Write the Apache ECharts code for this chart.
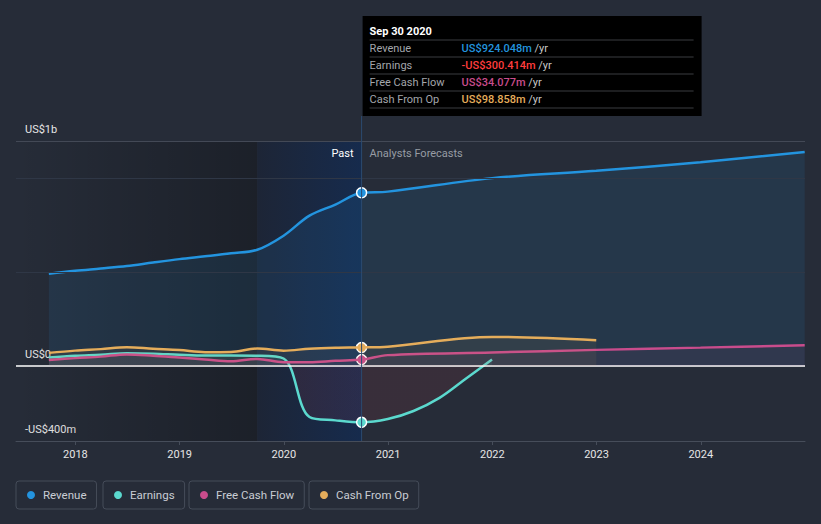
<!DOCTYPE html>
<html><head><meta charset="utf-8">
<script src="https://cdn.jsdelivr.net/npm/echarts@6/dist/echarts.min.js"></script>
<style>html,body{margin:0;padding:0;background:#262c38;}#c{width:821px;height:524px;}</style>
</head><body><div id="c"></div>
<script>
// ---------- data ----------
const pastDates = ['2017-09-30','2017-12-31','2018-03-31','2018-06-30','2018-09-30','2018-12-31','2019-03-31','2019-06-30','2019-09-30','2019-12-31','2020-03-31','2020-06-30','2020-09-30'];
const revenuePast  = [492, 508, 520, 533, 552, 570, 585, 601, 620, 695, 802, 861, 924.048];
const earningsPast = [45, 55, 60, 68, 66, 60, 56, 56, 55, 40, -272, -290, -300.414];
const fcfPast      = [32, 42, 50, 62, 55, 45, 35, 25, 38, 20, 20, 28, 34.077];
const cfoPast      = [70, 82, 90, 100, 92, 85, 74, 75, 93, 82, 92, 97, 98.858];

const annualFcDates   = ['2020-12-31','2021-12-31','2022-12-31','2023-12-31','2024-12-31'];
const revenueFc       = [930, 1002, 1041, 1087, 1141];
const fcfFc           = [58, 72, 86, 98, 111];
const cfoFcDates      = ['2020-12-31','2021-12-31','2022-12-31'];
const cfoFc           = [103, 155, 137];
const earningsFcDates = ['2020-12-31','2021-03-31','2021-06-30','2021-09-30','2021-12-31'];
const earningsFc      = [-283, -240, -170, -68, 35];

const seriesNames = ['Revenue','Earnings','Free Cash Flow','Cash From Op'];
const tooltipTitle = 'Sep 30 2020';
const tooltipValues = ['US$924.048m','-US$300.414m','US$34.077m','US$98.858m'];
const xTickYears = [2018, 2019, 2020, 2021, 2022, 2023, 2024];
const yTickValues = [-400, 0, 1200];
const yTickLabels = ['-US$400m', 'US$0', 'US$1b'];
const xStart = '2017-06-07', xEnd = '2025-01-01';
const highlightStart = '2019-09-30', pastEnd = '2020-09-30';

// ---------- styles ----------
const colors = ['#2394df', '#5bd9ce', '#c94c8c', '#e5ad5b'];
const tipColors = ['#2394df', '#ff3d3d', '#c94c8c', '#e5ad5b'];
const FONT = 'Roboto, "Noto Sans", sans-serif';

// date string -> fractional year (value axis)
function yr(s) {
  const p = s.split('-').map(Number);
  const t = Date.UTC(p[0], p[1] - 1, p[2]), a = Date.UTC(p[0], 0, 1), b = Date.UTC(p[0] + 1, 0, 1);
  return p[0] + (t - a) / (b - a);
}
const pairs = (d, v) => d.map((x, i) => [yr(x), v[i]]);

const chart = echarts.init(document.getElementById('c'), null, {renderer: 'svg'});

const allE = earningsPast.concat(earningsFc);
const eMax = Math.max.apply(null, allE), eMin = Math.min.apply(null, allE);
const zp = eMax / (eMax - eMin);

const data = [
  pairs(pastDates, revenuePast).concat(pairs(annualFcDates, revenueFc)),
  pairs(pastDates, earningsPast).concat(pairs(earningsFcDates, earningsFc)),
  pairs(pastDates, fcfPast).concat(pairs(annualFcDates, fcfFc)),
  pairs(pastDates, cfoPast).concat(pairs(cfoFcDates, cfoFc))
];
const lastPast = [revenuePast, earningsPast, fcfPast, cfoPast].map(a => a[a.length - 1]);

const areaColors = [
  'rgba(35,148,223,0.15)',
  new echarts.graphic.LinearGradient(0, 0, 0, 1, [
    {offset: 0, color: 'rgba(91,217,206,0.10)'},
    {offset: zp, color: 'rgba(91,217,206,0.10)'},
    {offset: zp, color: 'rgba(255,70,80,0.12)'},
    {offset: 1, color: 'rgba(255,70,80,0.12)'}]),
  'rgba(201,76,140,0.10)',
  'rgba(229,173,91,0.10)'
];

const mainSeries = seriesNames.map((name, i) => ({
  name, type: 'line', data: data[i], z: 3 + i,
  smooth: 0.35, showSymbol: false, symbol: 'circle',
  lineStyle: {color: colors[i], width: 2.5},
  itemStyle: {color: colors[i]},
  areaStyle: {color: areaColors[i], origin: 0},
  silent: true,
  markPoint: {
    silent: true, symbol: 'circle', symbolSize: 10,
    itemStyle: {color: colors[i], borderColor: '#ffffff', borderWidth: 1.5},
    label: {show: false},
    data: [{coord: [yr(pastEnd), lastPast[i]]}]
  }
}));
mainSeries.reverse();

const bgSeries = {
  type: 'line', data: [], z: 0, silent: true,
  markArea: {
    silent: true,
    data: [
      [{xAxis: yr(xStart), itemStyle: {color: new echarts.graphic.LinearGradient(0, 0, 1, 0, [
          {offset: 0, color: 'rgba(0,0,0,0)'}, {offset: 1, color: 'rgba(0,0,0,0.27)'}])}},
       {xAxis: yr(highlightStart)}],
      [{xAxis: yr(highlightStart), itemStyle: {color: new echarts.graphic.LinearGradient(0, 0, 1, 0, [
          {offset: 0, color: '#1d2536'}, {offset: 1, color: '#162b4d'}])}},
       {xAxis: yr(pastEnd)}]
    ]
  }
};
const gridSeries = {
  type: 'line', data: [], z: 1, silent: true,
  markLine: {
    silent: true, symbol: 'none', label: {show: false},
    data: [
      {yAxis: 500, lineStyle: {color: '#2f3746', width: 1, type: 'solid'}},
      {yAxis: 1000, lineStyle: {color: '#2f3746', width: 1, type: 'solid'}},
      {yAxis: 1200, lineStyle: {color: '#434956', width: 1, type: 'solid'}}
    ]
  }
};
const zeroSeries = {
  type: 'line', data: [], z: 20, silent: true,
  markLine: {
    silent: true, symbol: 'none', label: {show: false},
    data: [{yAxis: 0, lineStyle: {color: '#ffffff', width: 1.5, type: 'solid'}}]
  }
};

const legendLefts = [16, 103, 189, 309];
const legends = seriesNames.map((n, i) => ({
  data: [n], left: legendLefts[i], top: 481, selectedMode: false,
  padding: [8, 10, 8, 11], itemWidth: 8, itemHeight: 8, icon: 'circle',
  borderColor: '#454c59', borderWidth: 1, borderRadius: 3,
  textStyle: {color: '#c9cdd4', fontSize: 11.5, fontFamily: FONT, padding: [0, 0, 0, 3]}
}));

chart.setOption({
  animation: false,
  backgroundColor: '#262c38',
  textStyle: {fontFamily: FONT},
  grid: {left: 16, right: 16, top: 141, bottom: 83},
  legend: legends,
  xAxis: {
    type: 'value', min: yr(xStart), max: yr(xEnd),
    axisLine: {show: true, onZero: false, lineStyle: {color: '#464d5a', width: 1}},
    axisTick: {show: true, length: 4, lineStyle: {color: '#464d5a'}, customValues: xTickYears},
    axisLabel: {color: '#e6e6e6', fontSize: 11, fontFamily: FONT, margin: 8,
      customValues: xTickYears, formatter: v => String(Math.round(v))},
    splitLine: {show: false}
  },
  yAxis: {
    type: 'value', min: -400, max: 1200,
    axisLine: {show: false}, axisTick: {show: false}, splitLine: {show: false},
    axisLabel: {inside: true, margin: 9, color: '#e6e6e6', fontSize: 11, fontFamily: FONT,
      verticalAlign: 'bottom', padding: [0, 0, 6, 0],
      customValues: yTickValues,
      formatter: v => yTickLabels[yTickValues.indexOf(v)]}
  },
  series: [bgSeries, gridSeries].concat(mainSeries).concat([zeroSeries])
});

// ---------- annotations positioned from the axis ----------
const px = chart.convertToPixel({xAxisIndex: 0}, yr(pastEnd));
const tipL = px + 1, tipT = 16;
const rows = seriesNames.map((n, i) => [
  {type: 'text', x: px + 8, y: 48.5 + 17 * i, style: {text: n, fill: '#a3a6ab', font: '11px ' + FONT, verticalAlign: 'middle'}},
  {type: 'text', x: px + 100, y: 48.5 + 17 * i, style: {
    text: '{v|' + tooltipValues[i] + '}{u| /yr}', verticalAlign: 'middle',
    rich: {v: {fill: tipColors[i], font: '500 11px ' + FONT}, u: {fill: '#c8c8c8', font: '11px ' + FONT}}}}
]).flat();
const seps = [40, 57, 74, 91, 108].map(y => ({type: 'line', shape: {x1: px + 8, y1: y, x2: px + 332, y2: y},
  style: {stroke: '#3a3c40', lineWidth: 1}}));

chart.setOption({
  graphic: [
    {type: 'line', z: 15, shape: {x1: px, y1: tipT + 100, x2: px, y2: 441}, style: {stroke: '#2c4a70', lineWidth: 1}, silent: true},
    {type: 'text', z: 15, x: px - 8, y: 153, style: {text: 'Past', fill: '#ffffff', font: '11px ' + FONT, align: 'right', verticalAlign: 'middle'}},
    {type: 'text', z: 15, x: px + 8, y: 153, style: {text: 'Analysts Forecasts', fill: '#979ca4', font: '11px ' + FONT, align: 'left', verticalAlign: 'middle'}},
    {type: 'group', z: 30, children: [
      {type: 'rect', shape: {x: tipL, y: tipT, width: 339, height: 100}, style: {fill: '#000000'}},
      {type: 'text', x: px + 8, y: 31, style: {text: tooltipTitle, fill: '#ffffff', font: 'bold 11px ' + FONT, verticalAlign: 'middle'}}
    ].concat(seps).concat(rows)}
  ]
});
</script></body></html>
